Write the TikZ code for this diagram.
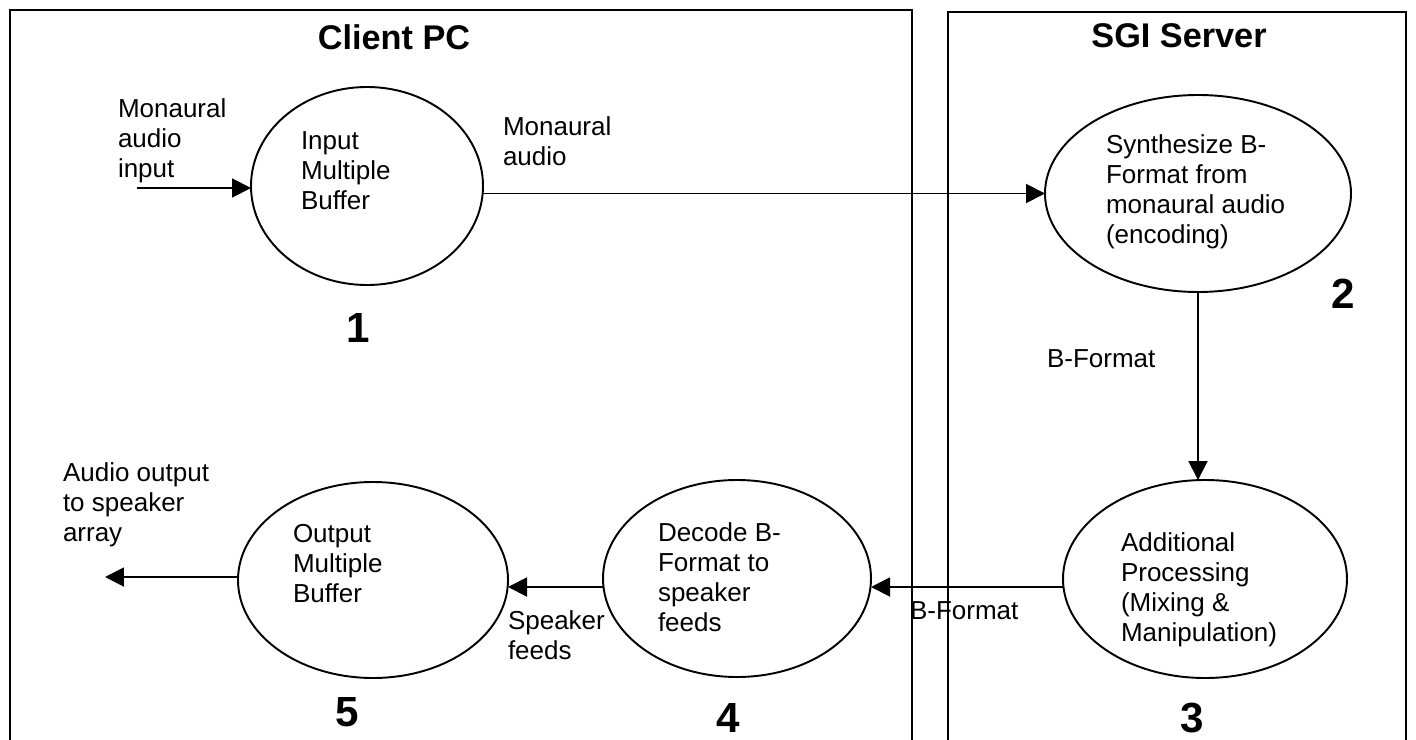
\documentclass[tikz,border=0pt]{standalone}
\usepackage{fontspec}
\setmainfont{Liberation Sans}
\usetikzlibrary{arrows.meta,shapes.geometric}

\tikzset{
  proc/.style={ellipse, draw, line width=1.1pt, inner sep=0pt, outer sep=0pt},
  lbl/.style={anchor=north west, inner sep=0pt, outer sep=0pt, align=left,
              font=\fontsize{14.8}{17.07}\selectfont},
  num/.style={inner sep=0pt, font=\fontsize{24}{28}\selectfont\bfseries},
  ttl/.style={inner sep=0pt, font=\fontsize{19.5}{23}\selectfont\bfseries},
  flow/.style={line width=1.1pt, -{Triangle[length=0.38cm,width=0.38cm]}},
  frame/.style={line width=1.1pt}
}

\begin{document}
\begin{tikzpicture}[x=0.02cm, y=-0.02cm]
  \useasboundingbox (0,0) rectangle (1416,740);

  % the two machines, open at the bottom
  \draw[frame] (10,740) -- (10,10) -- (912,10) -- (912,740);
  \draw[frame] (948,740) -- (948,12) -- (1406,12) -- (1406,740);
  \node[ttl] (tclient) at (394,37) {Client PC};
  \node[ttl] (tserver) at (1179,36) {SGI Server};

  % processing stages
  \node[proc, minimum width=232*0.02cm, minimum height=198*0.02cm] (e1) at (367,186) {};
  \node[proc, minimum width=306*0.02cm, minimum height=197*0.02cm] (e2) at (1198,193.5) {};
  \node[proc, minimum width=284*0.02cm, minimum height=198*0.02cm] (e3) at (1205,579) {};
  \node[proc, minimum width=268*0.02cm, minimum height=197*0.02cm] (e4) at (737,578.5) {};
  \node[proc, minimum width=270*0.02cm, minimum height=196*0.02cm] (e5) at (373,580) {};

  % stage texts
  \node[lbl] (t1) at (301,132) {Input\\Multiple\\Buffer};
  \node[lbl] (t2) at (1106,135) {Synthesize B-\\Format from\\monaural audio\\(encoding)};
  \node[lbl] (t3) at (1121,533) {Additional\\Processing\\(Mixing \&\\Manipulation)};
  \node[lbl] (t4) at (658,523) {Decode B-\\Format to\\speaker\\feeds};
  \node[lbl] (t5) at (293,524) {Output\\Multiple\\Buffer};

  % stage numbers
  \node[num] (n1) at (358,328) {1};
  \node[num] (n2) at (1343,294) {2};
  \node[num] (n3) at (1192,718) {3};
  \node[num] (n4) at (728,718) {4};
  \node[num] (n5) at (347,712) {5};

  % signal flow
  \coordinate (src) at (137,188);
  \coordinate (sink) at (105,577);
  \draw[flow] (src) -- (e1.west |- src);
  \draw[flow] (e1.east |- e2.west) -- (e2.west);
  \draw[flow] (e2.south) -- (e2.south |- e3.north);
  \draw[flow] ([yshift=-0.16cm]e3.west) -- ([yshift=-0.16cm]e3.west -| e4.east);
  \draw[flow] ([yshift=-0.17cm]e4.west) -- ([yshift=-0.17cm]e4.west -| e5.east);
  \draw[flow] (e5.west |- sink) -- (sink);

  % signal labels
  \node[lbl] (lin) at (118,99) {Monaural\\audio\\input};
  \node[lbl] (lmono) at (503,117) {Monaural\\audio};
  \node[lbl] (lbf1) at (1047,350) {B-Format};
  \node[lbl] (lbf2) at (910,602) {B-Format};
  \node[lbl] (lspk) at (508,611) {Speaker\\feeds};
  \node[lbl] (lout) at (63,463) {Audio output\\to speaker\\array};
\end{tikzpicture}
\end{document}
